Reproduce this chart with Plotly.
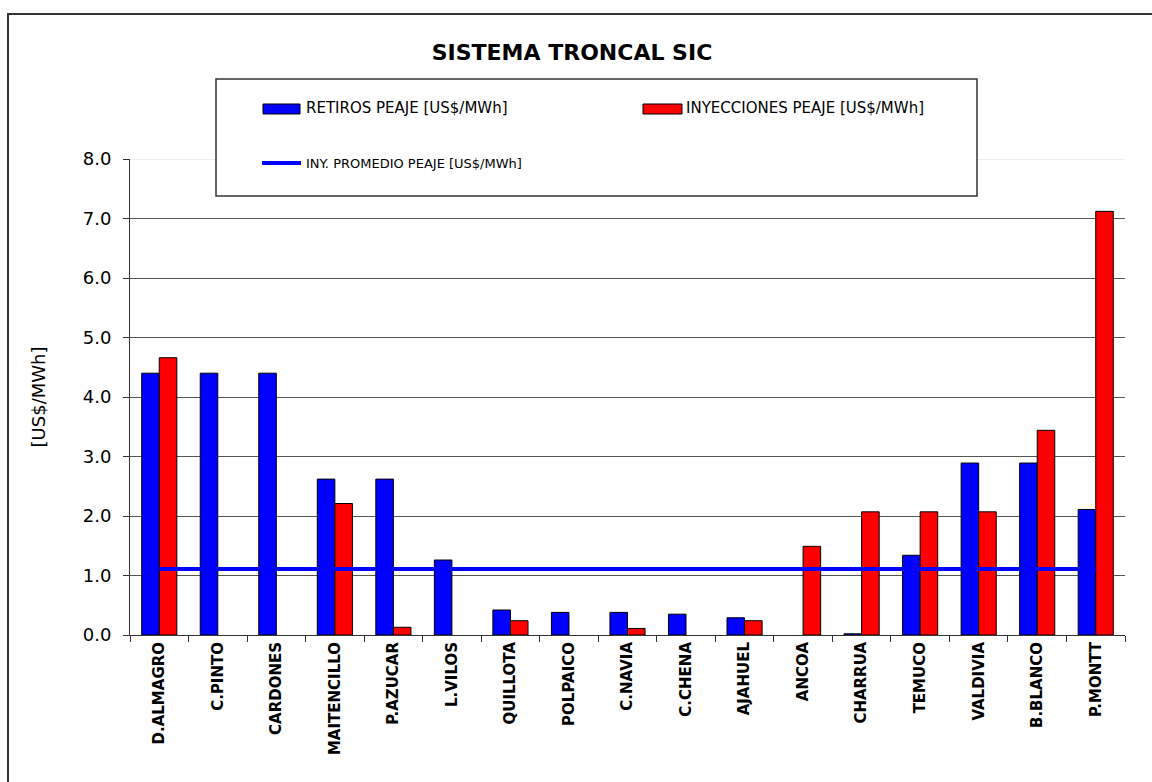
import plotly.graph_objects as go

# Nodes of the trunk transmission system
nodos = ["D.ALMAGRO", "C.PINTO", "CARDONES", "MAITENCILLO", "P.AZUCAR", "L.VILOS",
         "QUILLOTA", "POLPAICO", "C.NAVIA", "C.CHENA", "AJAHUEL", "ANCOA",
         "CHARRUA", "TEMUCO", "VALDIVIA", "B.BLANCO", "P.MONTT"]

# Toll values [US$/MWh]
retiros = [4.40, 4.40, 4.40, 2.62, 2.62, 1.26, 0.42, 0.38, 0.38, 0.35, 0.29,
           0.00, 0.02, 1.34, 2.89, 2.89, 2.11]
inyecciones = [4.66, 0.00, 0.00, 2.21, 0.13, 0.00, 0.24, 0.00, 0.11, 0.00, 0.24,
               1.49, 2.07, 2.07, 2.07, 3.44, 7.12]
promedio = [1.11, 1.11, 1.11, 1.11, 1.11, 1.11, 1.11, 1.11, 1.11, 1.11, 1.11,
            1.11, 1.11, 1.11, 1.11, 1.11, 1.11]

y_ticks = [0, 1, 2, 3, 4, 5, 6, 7, 8]
y_ticktext = ["0.0", "1.0", "2.0", "3.0", "4.0", "5.0", "6.0", "7.0", "8.0"]

name_ret = "RETIROS PEAJE [US$/MWh]"
name_iny = "INYECCIONES PEAJE [US$/MWh]"
name_prom = "INY. PROMEDIO PEAJE [US$/MWh]"

BLUE = "#0000FF"
RED = "#FF0000"
FONT = "DejaVu Sans"

W, H = 1152, 782
L, R, T, B = 130, 1125, 159, 635


def px(x):
    return (x - L) / (R - L)


def py(y):
    return (B - y) / (B - T)


def outline_widths(values):
    # no outline on empty bars so nothing shows along the axis
    return [0 if v == 0 else 1 for v in values]


fig = go.Figure()
fig.add_trace(go.Bar(x=nodos, y=retiros, name=name_ret,
                     marker=dict(color=BLUE,
                                 line=dict(color="#000000", width=outline_widths(retiros)))))
fig.add_trace(go.Bar(x=nodos, y=inyecciones, name=name_iny,
                     marker=dict(color=RED,
                                 line=dict(color="#000000", width=outline_widths(inyecciones)))))
fig.add_trace(go.Scatter(x=nodos, y=promedio, name=name_prom, mode="lines",
                         line=dict(color=BLUE, width=4)))

shapes = []
# outer chart frame
shapes.append(dict(type="rect", xref="paper", yref="paper",
                   x0=px(8), x1=px(1162), y0=py(14), y1=py(792),
                   line=dict(color="#333333", width=2), fillcolor="rgba(0,0,0,0)",
                   layer="above"))
# light top gridline at 8.0
shapes.append(dict(type="line", xref="paper", yref="y", x0=0, x1=1, y0=8, y1=8,
                   line=dict(color="#dddddd", width=1), layer="above"))
# legend box
shapes.append(dict(type="rect", xref="paper", yref="paper",
                   x0=px(216), x1=px(977), y0=py(79), y1=py(196),
                   line=dict(color="#333333", width=1.5), fillcolor="#ffffff",
                   layer="above"))
# legend swatches
shapes.append(dict(type="rect", xref="paper", yref="paper",
                   x0=px(263), x1=px(300), y0=py(104), y1=py(114),
                   line=dict(color="#000000", width=1), fillcolor=BLUE, layer="above"))
shapes.append(dict(type="rect", xref="paper", yref="paper",
                   x0=px(643), x1=px(682), y0=py(104), y1=py(114),
                   line=dict(color="#000000", width=1), fillcolor=RED, layer="above"))
shapes.append(dict(type="line", xref="paper", yref="paper",
                   x0=px(262), x1=px(301), y0=py(163), y1=py(163),
                   line=dict(color=BLUE, width=4), layer="above"))

annotations = [
    dict(text=name_ret, xref="paper", yref="paper", x=px(304), y=py(108),
         xanchor="left", yanchor="middle", showarrow=False,
         font=dict(family=FONT, size=15, color="#000000")),
    dict(text=name_iny, xref="paper", yref="paper", x=px(684), y=py(108),
         xanchor="left", yanchor="middle", showarrow=False,
         font=dict(family=FONT, size=15, color="#000000")),
    dict(text=name_prom, xref="paper", yref="paper", x=px(304), y=py(163),
         xanchor="left", yanchor="middle", showarrow=False,
         font=dict(family=FONT, size=13, color="#000000")),
]

fig.update_layout(
    width=W, height=H,
    margin=dict(l=L, r=W - R, t=T, b=H - B, pad=0),
    paper_bgcolor="#ffffff", plot_bgcolor="#ffffff",
    barmode="group", bargap=0.4, bargroupgap=0,
    showlegend=False,
    title=dict(text="<b>SISTEMA TRONCAL SIC</b>", xref="paper", yref="container",
               x=px(572), xanchor="center", y=1 - 52 / H, yanchor="middle",
               font=dict(family=FONT, size=22, color="#000000")),
    xaxis=dict(type="category", showgrid=False, showline=True, linecolor="#333333",
               linewidth=1, ticks="outside", tickson="boundaries", ticklen=6,
               tickcolor="#333333", tickangle=-90,
               tickfont=dict(family=FONT, size=15, color="#000000", weight="bold")),
    yaxis=dict(range=[0, 8], tickvals=y_ticks, ticktext=y_ticktext,
               showgrid=True, gridcolor="#555555", gridwidth=1,
               showline=True, linecolor="#333333", linewidth=1,
               ticks="outside", ticklen=6, tickcolor="#333333", ticklabelstandoff=8,
               zeroline=False,
               tickfont=dict(family=FONT, size=18, color="#000000"),
               title=dict(text="[US$/MWh]", standoff=32,
                          font=dict(family=FONT, size=18, color="#000000"))),
    shapes=shapes,
    annotations=annotations,
)

fig.write_html("out.html")
